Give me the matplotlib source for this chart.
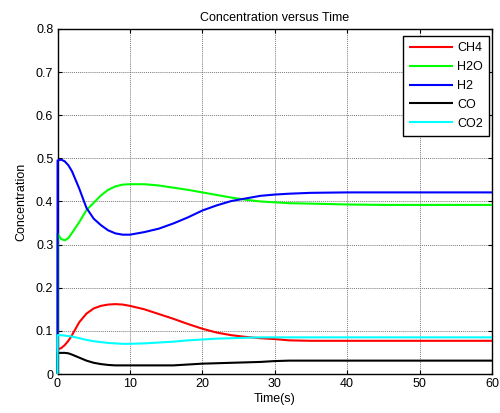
import matplotlib
matplotlib.use("Agg")
import matplotlib.pyplot as plt

plt.rcParams['font.family'] = ['Liberation Sans', 'DejaVu Sans']

# Simulation time (s) and species concentrations
time = [0, 0.01, 0.5, 1, 1.5, 2, 3, 4, 5, 6, 7, 8, 9, 10, 12, 14, 16, 18,
        20, 22, 24, 26, 28, 30, 32, 35, 40, 45, 50, 55, 60]

ch4 = [0, 0.057, 0.060, 0.067, 0.077, 0.090, 0.120, 0.140, 0.152, 0.158,
       0.161, 0.162, 0.161, 0.158, 0.150, 0.139, 0.128, 0.116, 0.105, 0.096,
       0.090, 0.086, 0.083, 0.081, 0.078, 0.077, 0.077, 0.077, 0.077, 0.077,
       0.077]

h2o = [0, 0.325, 0.313, 0.310, 0.315, 0.327, 0.352, 0.380, 0.397, 0.414,
       0.427, 0.435, 0.439, 0.440, 0.440, 0.437, 0.432, 0.427, 0.421, 0.415,
       0.409, 0.404, 0.400, 0.398, 0.396, 0.395, 0.393, 0.392, 0.392, 0.392,
       0.392]

h2 = [0, 0.495, 0.497, 0.493, 0.484, 0.470, 0.430, 0.385, 0.360, 0.345,
      0.333, 0.326, 0.323, 0.323, 0.329, 0.337, 0.349, 0.363, 0.379, 0.391,
      0.401, 0.407, 0.413, 0.416, 0.418, 0.420, 0.421, 0.421, 0.421, 0.421,
      0.421]

co = [0, 0.049, 0.049, 0.049, 0.048, 0.045, 0.038, 0.031, 0.026, 0.023,
      0.021, 0.020, 0.020, 0.020, 0.020, 0.020, 0.020, 0.022, 0.024, 0.025,
      0.026, 0.027, 0.028, 0.030, 0.031, 0.031, 0.031, 0.031, 0.031, 0.031,
      0.031]

co2 = [0, 0.090, 0.090, 0.089, 0.088, 0.087, 0.083, 0.079, 0.076, 0.074,
       0.072, 0.071, 0.070, 0.070, 0.071, 0.073, 0.075, 0.078, 0.080, 0.082,
       0.083, 0.084, 0.085, 0.085, 0.085, 0.085, 0.085, 0.085, 0.085, 0.085,
       0.085]

series_names = ['CH4', 'H2O', 'H2', 'CO', 'CO2']
series_colors = ['#ff0000', '#00ff00', '#0000ff', '#000000', '#00ffff']

x_ticks = [0, 10, 20, 30, 40, 50, 60]
y_ticks = [0, 0.1, 0.2, 0.3, 0.4, 0.5, 0.6, 0.7, 0.8]
y_tick_labels = ['0', '0.1', '0.2', '0.3', '0.4', '0.5', '0.6', '0.7', '0.8']

fig = plt.figure(figsize=(5.0, 4.13), dpi=100)
ax = fig.add_axes([0.115, 0.0944, 0.869, 0.8356])

for values, name, color in zip([ch4, h2o, h2, co, co2], series_names, series_colors):
    ax.plot(time, values, color=color, lw=1.5, label=name, zorder=3,
            clip_on=False, solid_capstyle='butt')

ax.set_xlim(0, 60)
ax.set_ylim(0, 0.8)
ax.set_xticks(x_ticks)
ax.set_yticks(y_ticks)
ax.set_yticklabels(y_tick_labels)
ax.tick_params(direction='in', top=True, right=True, length=3, width=0.8,
               labelsize=9, pad=3, colors='black')
ax.grid(True, linestyle=(0, (1, 1)), color='#7a7a7a', linewidth=0.7)
for spine in ax.spines.values():
    spine.set_color('black')
    spine.set_linewidth(1.0)
    spine.set_zorder(2.5)

ax.set_title('Concentration versus Time', fontsize=9, pad=6)
ax.set_xlabel('Time(s)', fontsize=9, labelpad=2)
ax.set_ylabel('Concentration', fontsize=9, labelpad=6)

leg = ax.legend(loc='upper right', bbox_to_anchor=(0.9942, 0.9797),
                borderaxespad=0, fontsize=9, frameon=True, fancybox=False,
                handlelength=3.5, handletextpad=0.38, labelspacing=0.55,
                borderpad=0.5)
leg.get_frame().set_edgecolor('black')
leg.get_frame().set_linewidth(1.0)
leg.get_frame().set_alpha(1.0)
leg.set_zorder(5)

fig.savefig('out.png', dpi=100)
